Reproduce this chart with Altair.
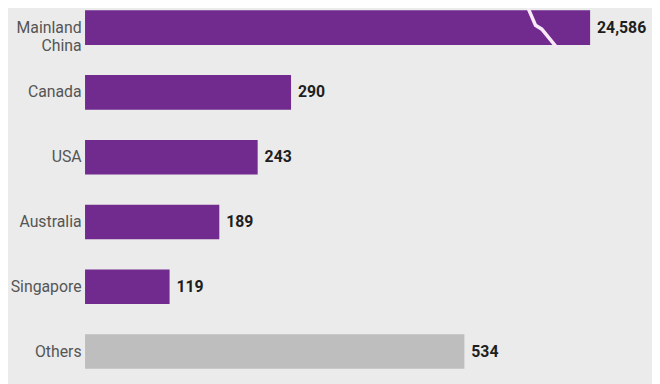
import altair as alt
import pandas as pd

countries = ["Mainland China", "Canada", "USA", "Australia", "Singapore", "Others"]
values = [24586, 290, 243, 189, 119, 534]
groups = ["main", "main", "main", "main", "main", "other"]

# The China bar is drawn on a broken axis, capped at this value
axis_cap = 711
break_at = 643

df = pd.DataFrame({
    "country": countries,
    "value": values,
    "group": groups,
})
df["drawn"] = df["value"].clip(upper=axis_cap)

break_df = pd.DataFrame({"country": ["Mainland China"], "pos": [break_at]})

x_scale = alt.Scale(domain=[0, 787], nice=False, zero=True)
y_enc = alt.Y(
    "country:N",
    sort=countries,
    scale=alt.Scale(paddingInner=0.4665, paddingOuter=0),
    axis=alt.Axis(
        title=None, domain=False, ticks=False, labelPadding=4,
        labelFontSize=16, labelColor="#555555", labelFont="Roboto",
        labelLineHeight=19,
        labelExpr="datum.label == 'Mainland China' ? split(datum.label, ' ') : datum.label",
    ),
)

bars = alt.Chart(df).mark_bar().encode(
    y=y_enc,
    x=alt.X("drawn:Q", scale=x_scale, axis=None),
    color=alt.Color("group:N", scale=alt.Scale(domain=["main", "other"], range=["#712a8d", "#bebebf"]), legend=None),
)

labels = alt.Chart(df).mark_text(
    align="left", baseline="middle", dx=7, fontSize=16, fontWeight="bold",
    font="Roboto", color="#1e1e1e",
).encode(
    y=alt.Y("country:N", sort=countries),
    x=alt.X("drawn:Q", scale=x_scale),
    text=alt.Text("value:Q", format=","),
)

brk = alt.Chart(break_df).mark_point(
    shape="M -0.7 -1 L -0.32 -0.12 L 0.0 0.08 L 0.75 1",
    size=1600, filled=False, stroke="#f8eaf8", strokeWidth=3.5, opacity=1,
    strokeJoin="miter",
).encode(
    y=alt.Y("country:N", sort=countries),
    x=alt.X("pos:Q", scale=x_scale),
)

chart = alt.layer(bars, labels, brk).properties(
    width=566, height=363,
    autosize=alt.AutoSizeParams(type="none"),
    padding={"left": 78, "top": 0, "right": 8, "bottom": 13},
    background="#ebebeb",
).configure_view(stroke=None)

chart.save("out.html", embed_options={"renderer": "svg", "actions": False})
